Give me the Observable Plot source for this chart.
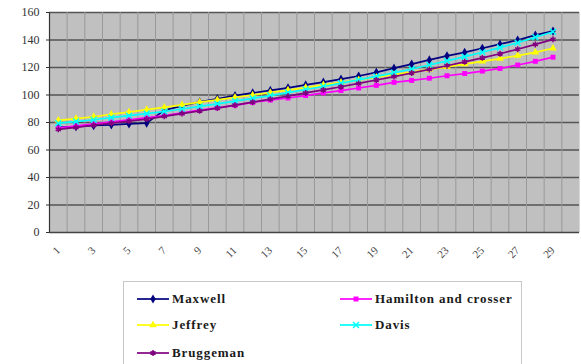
<!DOCTYPE html>
<html>
<head>
<meta charset="utf-8">
<script src="https://cdn.jsdelivr.net/npm/d3@7"></script>
<script src="https://cdn.jsdelivr.net/npm/@observablehq/plot@0.6"></script>
<style>
  html, body { margin: 0; padding: 0; background: #fff; }
  #wrap { position: relative; width: 581px; height: 364px; overflow: hidden; }
  #legend {
    position: absolute; left: 123px; top: 281px; width: 399px; height: 100px;
    border: 1px solid #c8c8c8; background: #fff; box-sizing: border-box;
    font-family: "Liberation Serif", "Times New Roman", serif; font-weight: bold;
    font-size: 13px; letter-spacing: 0.9px; color: #1a1a1a;
  }
  .item { position: absolute; display: flex; align-items: center; height: 20px; }
  .item svg { display: block; margin-right: 2px; }
</style>
</head>
<body>
<div id="wrap">
  <div id="chart"></div>
  <div id="legend"></div>
</div>
<script>
// Sample index along the horizontal axis
const categories = [1, 2, 3, 4, 5, 6, 7, 8, 9, 10, 11, 12, 13, 14, 15, 16, 17, 18, 19, 20,
                    21, 22, 23, 24, 25, 26, 27, 28, 29];
const xTickLabels = [1, 3, 5, 7, 9, 11, 13, 15, 17, 19, 21, 23, 25, 27, 29];
const yTickLabels = [0, 20, 40, 60, 80, 100, 120, 140, 160];
// Category boundaries carrying the small tick marks under the axis
const xBoundaries = [0.5, 1.5, 2.5, 3.5, 4.5, 5.5, 6.5, 7.5, 8.5, 9.5, 10.5, 11.5, 12.5, 13.5, 14.5,
                     15.5, 16.5, 17.5, 18.5, 19.5, 20.5, 21.5, 22.5, 23.5, 24.5, 25.5, 26.5, 27.5,
                     28.5, 29.5, 30.5];

// Model values
const maxwell   = [76.5, 77, 77.8, 78.3, 79, 79.5, 89, 92, 95, 97.3, 99.5, 101.5, 103.3, 105.2, 107.3,
                   109.3, 111.5, 113.8, 116.5, 119.5, 122.5, 125.5, 128.5, 131, 134, 137, 140, 143.5, 146.5];
const hamilton  = [76, 77.5, 79, 80.5, 82, 83.5, 85, 87, 89, 90.7, 92.5, 94.6, 96.3, 97.8, 99.6,
                   101.5, 103.2, 105.1, 107, 109.2, 110.6, 112.2, 114, 115.6, 117.4, 119.3, 121.8, 124.5, 127.5];
const jeffrey   = [81.5, 82.8, 84.2, 86, 87.5, 89.3, 91, 92.8, 94.8, 96.5, 98.3, 100, 101.8, 103.6, 105.4,
                   107.3, 109.2, 111, 112.9, 114.8, 116.7, 118.6, 120.5, 122.5, 124.5, 126.5, 128.6, 131, 134];
const davis     = [79.5, 80.7, 82, 83.5, 85, 86.5, 88, 89.8, 91.7, 93.6, 95.6, 97.6, 99.6, 101.7, 104,
                   106.2, 108.6, 111, 113.5, 116.1, 118.9, 121.8, 124.8, 127.9, 131.1, 134.5, 138, 142, 146];
const bruggeman = [75, 76.5, 78, 79.5, 81, 82.5, 84.5, 86.5, 88.5, 90.5, 92.6, 94.8, 97, 99.2, 101.5,
                   103.7, 106, 108.4, 110.9, 113.4, 116, 118.6, 121.3, 124.1, 127, 130, 133.3, 136.8, 140.5];

const seriesNames   = ["Maxwell", "Hamilton and crosser", "Jeffrey", "Davis", "Bruggeman"];
const seriesValues  = [maxwell, hamilton, jeffrey, davis, bruggeman];
const seriesColors  = ["#000080", "#ff00ff", "#ffff00", "#00ffff", "#800080"];
const seriesSymbols = ["diamond", "square", "triangle", "times", "asterisk"];
const strokedSymbols = new Set(["times", "asterisk"]);

const rows = seriesNames.flatMap((name, s) =>
  categories.map((c, i) => ({series: name, x: c, value: seriesValues[s][i]})));

const serif = "Liberation Serif, Times New Roman, serif";

const marks = [
  Plot.frame({fill: "#c0c0c0", stroke: null}),
  Plot.ruleY(yTickLabels.filter(v => v > 0), {stroke: "#555", strokeWidth: 1.7}),
  Plot.axisY({ticks: yTickLabels, tickSize: 3, tickPadding: 7, fontSize: 12, fontFamily: serif, color: "#333", label: null}),
  Plot.axisX({ticks: xTickLabels, tickSize: 0, tickRotate: -45, tickPadding: 16, fontSize: 11, fontFamily: serif, color: "#444", label: null}),
  Plot.tickX(xBoundaries, {x: d => d, y1: 0, y2: -2, stroke: "#999", strokeWidth: 1}),
  Plot.ruleX([0.5], {stroke: "#333", strokeWidth: 1.2}),
  Plot.ruleY([0], {stroke: "#444", strokeWidth: 1.4}),
  Plot.ruleX([30.5], {stroke: "#d8d8d8", strokeWidth: 1})
];

seriesNames.forEach((name, s) => {
  const data = rows.filter(d => d.series === name);
  marks.push(Plot.line(data, {x: "x", y: "value", stroke: seriesColors[s], strokeWidth: 1.7}));
  const stroked = strokedSymbols.has(seriesSymbols[s]);
  marks.push(Plot.dot(data, {
    x: "x", y: "value", symbol: () => seriesSymbols[s], r: 2.8,
    fill: stroked ? "none" : seriesColors[s],
    stroke: stroked ? seriesColors[s] : "none",
    strokeWidth: stroked ? 1.5 : 0
  }));
});

const chart = Plot.plot({
  width: 581,
  height: 276,
  marginLeft: 49,
  marginRight: 2,
  marginTop: 12,
  marginBottom: 44,
  x: {domain: [0.5, 30.5]},
  y: {domain: [0, 160]},
  symbol: {type: "identity"},
  style: {background: "#fff", overflow: "visible"},
  marks
});
document.getElementById("chart").appendChild(chart);

// Legend: three rows, two columns
const legend = document.getElementById("legend");
const slots = [[12, 7], [215, 7], [12, 33], [215, 33], [12, 61]];
const symbolTypes = {diamond: d3.symbolDiamond, square: d3.symbolSquare, triangle: d3.symbolTriangle,
                     times: d3.symbolTimes, asterisk: d3.symbolAsterisk};
seriesNames.forEach((name, s) => {
  const item = document.createElement("div");
  item.className = "item";
  item.style.left = slots[s][0] + "px";
  item.style.top = slots[s][1] + "px";
  const svg = d3.create("svg").attr("width", 34).attr("height", 20);
  svg.append("line").attr("x1", 1).attr("x2", 33).attr("y1", 10).attr("y2", 10)
    .attr("stroke", seriesColors[s]).attr("stroke-width", 1.7);
  const stroked = strokedSymbols.has(seriesSymbols[s]);
  svg.append("path")
    .attr("d", d3.symbol(symbolTypes[seriesSymbols[s]], 2.8 * 2.8 * Math.PI)())
    .attr("transform", "translate(17,10)")
    .attr("fill", stroked ? "none" : seriesColors[s])
    .attr("stroke", stroked ? seriesColors[s] : "none")
    .attr("stroke-width", 1.5);
  item.appendChild(svg.node());
  const label = document.createElement("span");
  label.textContent = name;
  item.appendChild(label);
  legend.appendChild(item);
});
</script>
</body>
</html>
